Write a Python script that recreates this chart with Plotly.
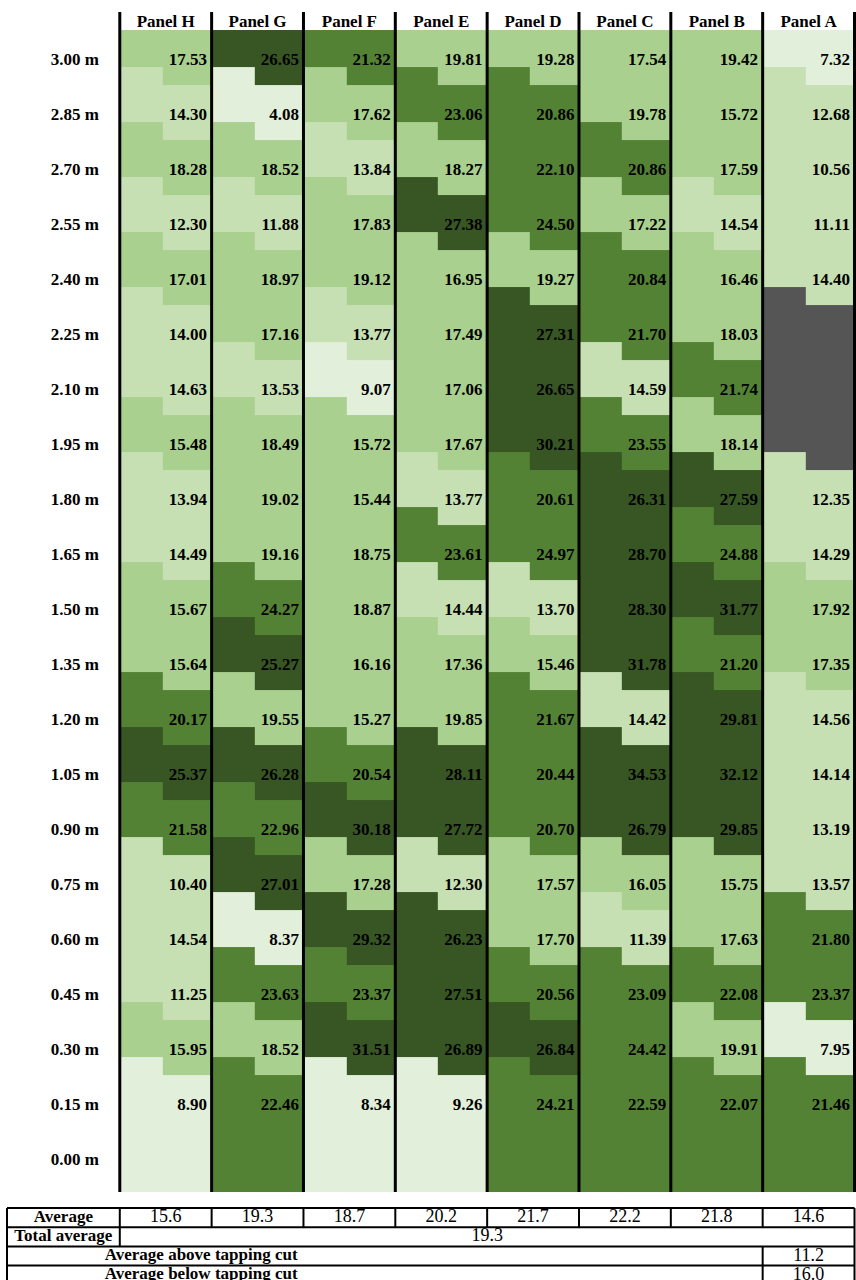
import numpy as np
import plotly.graph_objects as go

panels = ["Panel H", "Panel G", "Panel F", "Panel E", "Panel D", "Panel C", "Panel B", "Panel A"]
heights = [3.00, 2.85, 2.70, 2.55, 2.40, 2.25, 2.10, 1.95, 1.80, 1.65, 1.50,
           1.35, 1.20, 1.05, 0.90, 0.75, 0.60, 0.45, 0.30, 0.15, 0.00]

panel_h = [17.53, 14.30, 18.28, 12.30, 17.01, 14.00, 14.63, 15.48, 13.94, 14.49,
           15.67, 15.64, 20.17, 25.37, 21.58, 10.40, 14.54, 11.25, 15.95, 8.90]
panel_g = [26.65, 4.08, 18.52, 11.88, 18.97, 17.16, 13.53, 18.49, 19.02, 19.16,
           24.27, 25.27, 19.55, 26.28, 22.96, 27.01, 8.37, 23.63, 18.52, 22.46]
panel_f = [21.32, 17.62, 13.84, 17.83, 19.12, 13.77, 9.07, 15.72, 15.44, 18.75,
           18.87, 16.16, 15.27, 20.54, 30.18, 17.28, 29.32, 23.37, 31.51, 8.34]
panel_e = [19.81, 23.06, 18.27, 27.38, 16.95, 17.49, 17.06, 17.67, 13.77, 23.61,
           14.44, 17.36, 19.85, 28.11, 27.72, 12.30, 26.23, 27.51, 26.89, 9.26]
panel_d = [19.28, 20.86, 22.10, 24.50, 19.27, 27.31, 26.65, 30.21, 20.61, 24.97,
           13.70, 15.46, 21.67, 20.44, 20.70, 17.57, 17.70, 20.56, 26.84, 24.21]
panel_c = [17.54, 19.78, 20.86, 17.22, 20.84, 21.70, 14.59, 23.55, 26.31, 28.70,
           28.30, 31.78, 14.42, 34.53, 26.79, 16.05, 11.39, 23.09, 24.42, 22.59]
panel_b = [19.42, 15.72, 17.59, 14.54, 16.46, 18.03, 21.74, 18.14, 27.59, 24.88,
           31.77, 21.20, 29.81, 32.12, 29.85, 15.75, 17.63, 22.08, 19.91, 22.07]
panel_a = [7.32, 12.68, 10.56, 11.11, 14.40, None, None, None, 12.35, 14.29,
           17.92, 17.35, 14.56, 14.14, 13.19, 13.57, 21.80, 23.37, 7.95, 21.46]

panel_avg = [15.6, 19.3, 18.7, 20.2, 21.7, 22.2, 21.8, 14.6]
total_avg = 19.3
above_cut = 11.2
below_cut = 16.0

class_breaks = [10, 15, 20, 25]
class_colors = ["#E2EFDA", "#C6E0B4", "#A9D08E", "#548235", "#375623", "#555555"]

FONT = "Liberation Serif"
W, H = 856, 1280
label_w = 120 / 92          # label column width in panel units
split = 43 / 92             # left/right sub-column split inside a panel
pad = 0.0845                # color band above first / below last row
shift_l, shift_r = 0.0177, 0.0668

cols = [panel_h, panel_g, panel_f, panel_e, panel_d, panel_c, panel_b, panel_a]
vals = np.array([[np.nan if v is None else v for v in c] for c in cols], dtype=float).T
cat = np.where(np.isnan(vals), 5, np.digitize(np.nan_to_num(vals), class_breaks))

n = len(panels)
hv = np.array(heights[:vals.shape[0]])
x_full = np.arange(n + 1)
x_split = np.append(np.ravel([[j, j + split] for j in range(n)]), n)

def edges(shift):
    e = [heights[0] + pad] + list(hv[:-1] - shift) + [heights[-1] - pad]
    return e[::-1]

# left layer covers the whole panel, right layer is laid over the right part
zr = np.full((len(hv), 2 * n), np.nan)
zr[:, 1::2] = cat

cs = []
for k, c in enumerate(class_colors):
    cs += [[k / 6, c], [(k + 1) / 6, c]]

fig = go.Figure()
for x, z, sh in [(x_full, cat, shift_l), (x_split, zr, shift_r)]:
    fig.add_trace(go.Heatmap(
        x=x, y=edges(sh), z=z[::-1], zmin=-0.5, zmax=5.5,
        colorscale=cs, showscale=False, hoverinfo="skip"))

# panel separators
lx, ly = [], []
for j in range(n + 1):
    lx += [j, j, None]
    ly += [heights[0] + 0.1336, heights[-1] - pad, None]
fig.add_trace(go.Scatter(x=lx, y=ly, mode="lines", line=dict(color="black", width=3),
                         hoverinfo="skip", showlegend=False))

# value labels
tx, ty, tt = [], [], []
for j in range(n):
    for i in range(len(hv)):
        if not np.isnan(vals[i, j]):
            tx.append(j + 1 - 0.05)
            ty.append(hv[i])
            tt.append(f"{vals[i, j]:.2f}")
fig.add_trace(go.Scatter(x=tx, y=ty, text=tt, mode="text", textposition="middle left",
                         textfont=dict(family=FONT, size=17, color="black", weight="bold"),
                         hoverinfo="skip", showlegend=False))

# row labels
fig.add_trace(go.Scatter(x=[-0.49] * len(heights), y=heights,
                         text=[f"{h:.2f} m" for h in heights], mode="text",
                         textfont=dict(family=FONT, size=17, color="black", weight="bold"),
                         hoverinfo="skip", showlegend=False))

# headers
fig.add_trace(go.Scatter(x=[j + 0.5 for j in range(n)], y=[heights[0] + 0.1036] * n,
                         text=panels, mode="text",
                         textfont=dict(family=FONT, size=17, color="black", weight="bold"),
                         hoverinfo="skip", showlegend=False))

# summary table (on y2)
tl = -label_w + 7 / 92
bx, by = [], []
for r in range(5):
    bx += [tl, n, None]
    by += [r, r, None]
for x in [tl, n]:
    bx += [x, x, None]
    by += [0, 4, None]
for j in range(n):
    bx += [j, j, None]
    by += [0, 1 if j else 2, None]
bx += [n - 1, n - 1, None]
by += [2, 4, None]
fig.add_trace(go.Scatter(x=bx, y=by, yaxis="y2", mode="lines",
                         line=dict(color="black", width=2), hoverinfo="skip", showlegend=False))

mid = (tl + 0) / 2
fig.add_trace(go.Scatter(
    x=[mid, mid, (tl + 3) / 2, (tl + 3) / 2], y=[0.5, 1.5, 2.5, 3.5], yaxis="y2",
    text=["Average", "Total average", "Average above tapping cut", "Average below tapping cut"],
    mode="text", textfont=dict(family=FONT, size=17, color="black", weight="bold"),
    hoverinfo="skip", showlegend=False))
fig.add_trace(go.Scatter(
    x=[j + 0.5 for j in range(n)] + [n / 2, n - 0.5, n - 0.5],
    y=[0.5] * n + [1.5, 2.5, 3.5], yaxis="y2",
    text=[f"{v:.1f}" for v in panel_avg] + [f"{total_avg:.1f}", f"{above_cut:.1f}", f"{below_cut:.1f}"],
    mode="text", textfont=dict(family=FONT, size=18, color="black"),
    hoverinfo="skip", showlegend=False))

top_px, main_px = 61, 1200
px_per_m = 55 / 0.15
fig.update_layout(
    width=W, height=H, margin=dict(l=0, r=0, t=0, b=0),
    paper_bgcolor="white", plot_bgcolor="white", showlegend=False,
    xaxis=dict(range=[-label_w, n + 1.5 / 92], visible=False, fixedrange=True),
    yaxis=dict(domain=[1 - main_px / H, 1],
               range=[heights[0] - (main_px - top_px) / px_per_m, heights[0] + top_px / px_per_m],
               visible=False),
    yaxis2=dict(domain=[0, 1 - main_px / H], range=[3.75, -0.42], visible=False),
)

fig.write_html("out.html", config={"displayModeBar": False},
               post_script="document.body.style.margin='0';")
